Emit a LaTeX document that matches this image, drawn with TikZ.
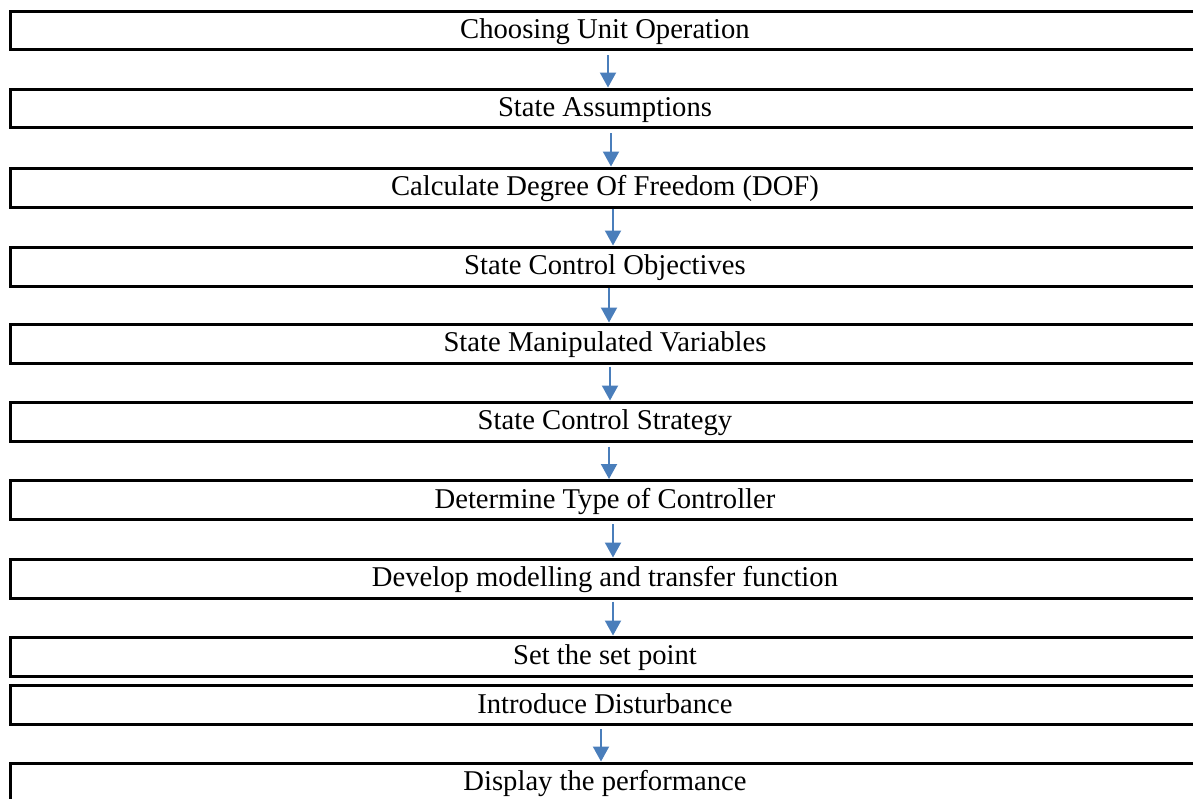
\documentclass[tikz,border=0pt]{standalone}
\usepackage{fontspec}
\setmainfont{Liberation Serif}
\usetikzlibrary{arrows.meta}
\definecolor{flowBlue}{HTML}{4A7EBB}

\begin{document}
\begin{tikzpicture}[x=0.02cm, y=-0.02cm,
	stepbox/.style={draw=black, line width=0.06cm, minimum width=23.8cm, minimum height=0.78cm,
		inner sep=0pt, text height=0.42cm, text depth=0.1cm, font=\fontsize{16.3}{19}\selectfont},
	flowarrow/.style={draw=flowBlue, line width=0.04cm, -{Triangle[width=0.32cm, length=0.3cm]}}]
	% Page size of the reference
	\useasboundingbox (0,0) rectangle (1193,798);
	\clip (0,0) rectangle (1193,798);
	
	% Steps of the procedure
	\node[stepbox] (choose) at (605,30.5) {Choosing Unit Operation};
	\node[stepbox] (assume) at (605,108.5) {State Assumptions};
	\node[stepbox] (dof) at (605,187.5) {Calculate Degree Of Freedom (DOF)};
	\node[stepbox] (objectives) at (605,266.5) {State Control Objectives};
	\node[stepbox] (manipulated) at (605,343.5) {State Manipulated Variables};
	\node[stepbox] (strategy) at (605,421.5) {State Control Strategy};
	\node[stepbox] (controller) at (605,500) {Determine Type of Controller};
	\node[stepbox] (model) at (605,578.5) {Develop modelling and transfer function};
	\node[stepbox] (setpoint) at (605,656.5) {Set the set point};
	\node[stepbox] (disturb) at (605,705) {Introduce Disturbance};
	\node[stepbox] (perform) at (605,782.5) {Display the performance};
	
	% Arrows between the steps
	\foreach \from/\to/\dx/\gap in {choose/assume/3/4, assume/dof/6/4, dof/objectives/8/0,
		objectives/manipulated/4/0, manipulated/strategy/5/2, strategy/controller/4/4,
		controller/model/8/3, model/setpoint/8/2, disturb/perform/-4/3}{
		\draw[flowarrow] ([xshift=\dx*0.02cm, yshift=-\gap*0.02cm]\from.south) -- ([xshift=\dx*0.02cm]\to.north);
	}
\end{tikzpicture}
\end{document}
